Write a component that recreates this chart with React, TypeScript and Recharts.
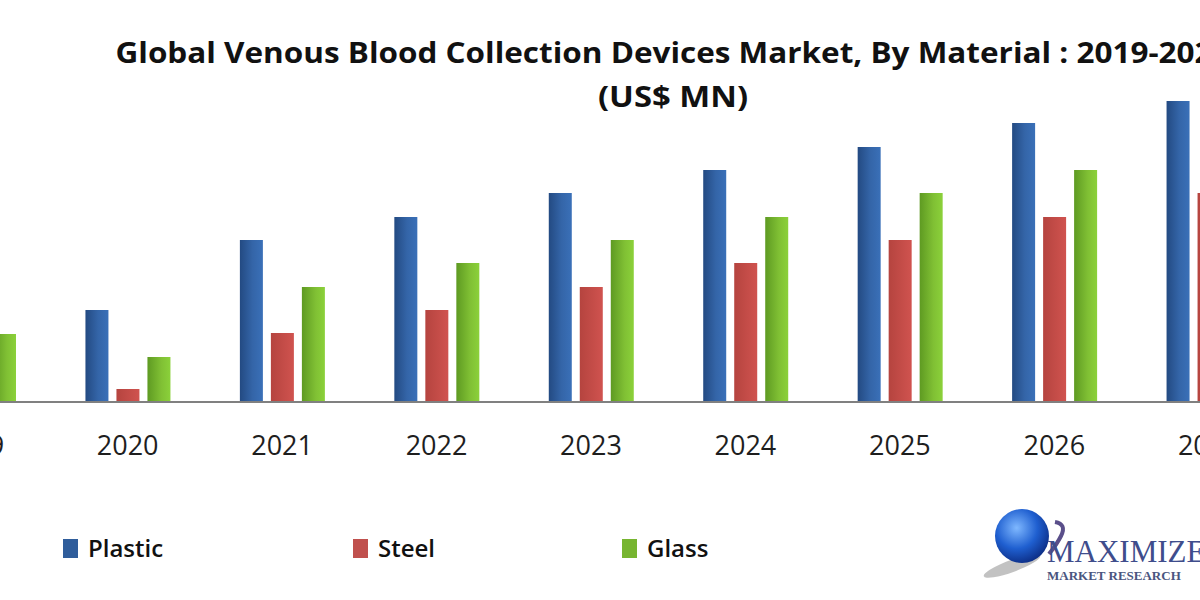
import { Bar, BarChart, XAxis, YAxis } from "recharts";

// (US$ MN, relative scale)
const years = ["2019", "2020", "2021", "2022", "2023", "2024", "2025", "2026", "2027"];
const plastic = [140, 92, 162, 185, 209, 232, 255, 279, 301];
const steel = [46, 13, 69, 92, 115, 139, 162, 185, 209];
const glass = [68, 45, 115, 139, 162, 185, 209, 232, 255];

const series = [
  { key: "plastic", name: "Plastic", fill: "url(#gPlastic)", swatch: "#2f5d9b" },
  { key: "steel", name: "Steel", fill: "url(#gSteel)", swatch: "#c0504d" },
  { key: "glass", name: "Glass", fill: "url(#gGlass)", swatch: "#77b530" },
];
const legendLeft = [63, 353, 622];

const data = years.map((year, i) => ({
  year,
  plastic: plastic[i],
  steel: steel[i],
  glass: glass[i],
}));

const FONT = "'Open Sans', 'Noto Sans', sans-serif";

export default function App() {
  return (
    <div
      style={{
        position: "fixed",
        left: 0,
        top: 0,
        width: 1200,
        height: 600,
        overflow: "hidden",
        background: "#fff",
      }}
    >
      <BarChart
        width={1390}
        height={600}
        data={data}
        margin={{ top: 80, right: 0, bottom: 140, left: 0 }}
        barSize={23}
        barGap={8}
        style={{ position: "absolute", left: -104, top: 0 }}
      >
        <defs>
          <linearGradient id="gPlastic" x1="0" y1="0" x2="1" y2="0">
            <stop offset="0%" stopColor="#234a82" />
            <stop offset="55%" stopColor="#3465a8" />
            <stop offset="100%" stopColor="#3a70b8" />
          </linearGradient>
          <linearGradient id="gSteel" x1="0" y1="0" x2="1" y2="0">
            <stop offset="0%" stopColor="#b5443f" />
            <stop offset="100%" stopColor="#d0534f" />
          </linearGradient>
          <linearGradient id="gGlass" x1="0" y1="0" x2="1" y2="0">
            <stop offset="0%" stopColor="#5e9a22" />
            <stop offset="60%" stopColor="#80c034" />
            <stop offset="100%" stopColor="#8bd13a" />
          </linearGradient>
        </defs>
        <XAxis
          dataKey="year"
          height={58}
          axisLine={{ stroke: "#808080", strokeWidth: 2 }}
          tickLine={false}
          tickSize={0}
          tickMargin={34}
          tick={{ fontSize: 27, fill: "#1e1e1e", fontFamily: FONT }}
          interval={0}
        />
        <YAxis hide domain={[0, 322]} />
        {series.map((s) => (
          <Bar key={s.key} dataKey={s.key} name={s.name} fill={s.fill} isAnimationActive={false} />
        ))}
      </BarChart>

      <svg width={1200} height={600} style={{ position: "absolute", left: 0, top: 0, pointerEvents: "none" }}>
        <text
          x={673}
          y={63}
          textAnchor="middle"
          textLength={1115}
          lengthAdjust="spacingAndGlyphs"
          style={{ fontFamily: FONT, fontWeight: 700, fontSize: 28, fill: "#111" }}
        >
          Global Venous Blood Collection Devices Market, By Material : 2019-2027
        </text>
        <text
          x={673}
          y={107}
          textAnchor="middle"
          textLength={150}
          lengthAdjust="spacingAndGlyphs"
          style={{ fontFamily: FONT, fontWeight: 700, fontSize: 28, fill: "#111" }}
        >
          (US$ MN)
        </text>

        {series.map((s, i) => (
          <g key={s.key}>
            <rect x={legendLeft[i]} y={539} width={15} height={19} fill={s.swatch} />
            <text
              x={legendLeft[i] + 25}
              y={557}
              style={{ fontFamily: FONT, fontWeight: 600, fontSize: 24, fill: "#111" }}
            >
              {s.name}
            </text>
          </g>
        ))}

        <defs>
          <radialGradient id="globe" cx="0.4" cy="0.35" r="0.7">
            <stop offset="0%" stopColor="#7fb8ff" />
            <stop offset="55%" stopColor="#1f5fd0" />
            <stop offset="100%" stopColor="#0b2a80" />
          </radialGradient>
        </defs>
        <ellipse cx={1012} cy={566} rx={30} ry={6} fill="#9a9a9a" opacity={0.6} transform="rotate(-20 1012 566)" />
        <circle cx={1022} cy={536} r={27} fill="url(#globe)" />
        <path d="M1055 522 q12 2 6 14 q-4 8 -12 18" stroke="#5a4f8a" strokeWidth={4} fill="none" />
        <text x={1047} y={562} style={{ fontFamily: "'Liberation Serif', serif", fontSize: 31, fill: "#3f4d8c" }}>
          MAXIMIZE
        </text>
        <text
          x={1047}
          y={580}
          style={{ fontFamily: "'Liberation Serif', serif", fontWeight: 700, fontSize: 13, fill: "#4a5580" }}
        >
          MARKET RESEARCH
        </text>
      </svg>
    </div>
  );
}
